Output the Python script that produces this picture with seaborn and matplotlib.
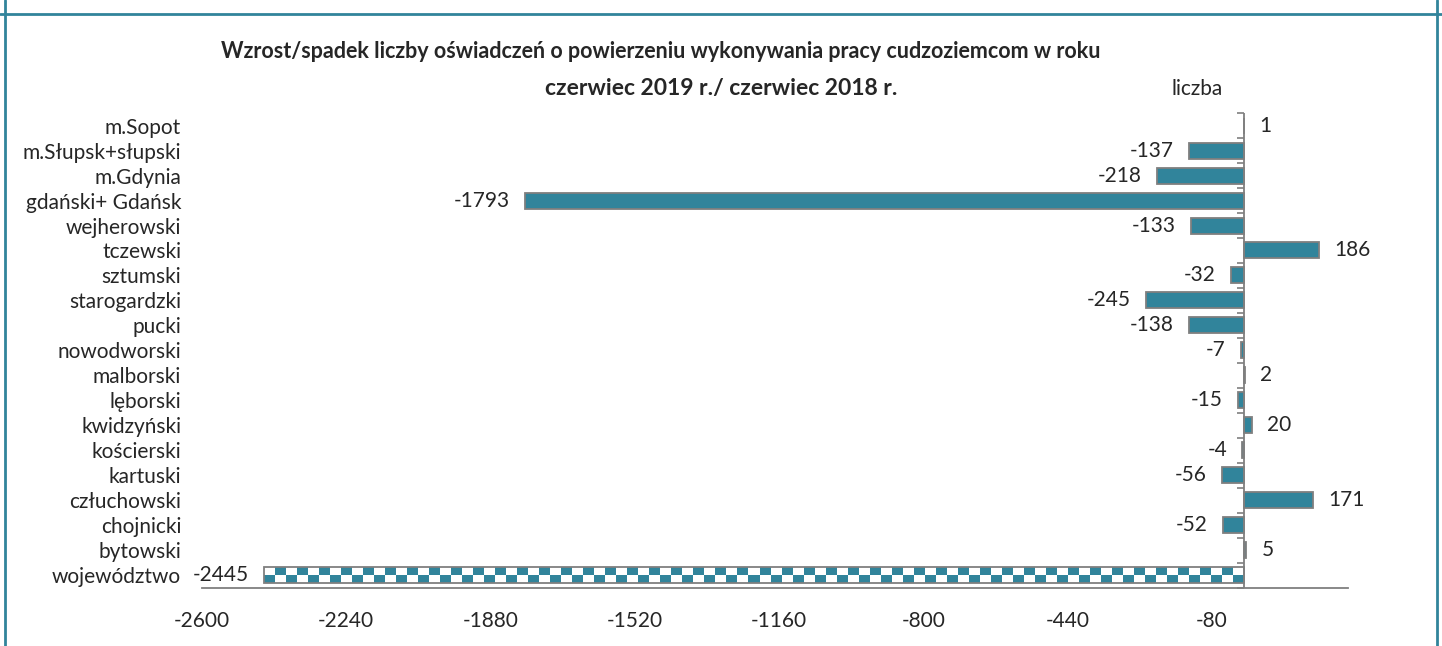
import numpy as np
import pandas as pd
import matplotlib
matplotlib.use('Agg')
import matplotlib.pyplot as plt
import seaborn as sns

# ----------------------------
# data
# ----------------------------
regions = ['m.Sopot', 'm.Słupsk+słupski', 'm.Gdynia', 'gdański+ Gdańsk', 'wejherowski',
           'tczewski', 'sztumski', 'starogardzki', 'pucki', 'nowodworski', 'malborski',
           'lęborski', 'kwidzyński', 'kościerski', 'kartuski', 'człuchowski',
           'chojnicki', 'bytowski', 'województwo']
change = [1, -137, -218, -1793, -133, 186, -32, -245, -138, -7, 2, -15, 20, -4, -56,
          171, -52, 5, -2445]
x_ticks = [-2600, -2240, -1880, -1520, -1160, -800, -440, -80]

title_line1 = 'Wzrost/spadek liczby oświadczeń o powierzeniu wykonywania pracy cudzoziemcom w roku'
title_line2 = 'czerwiec 2019 r./ czerwiec 2018 r.'
unit_label = 'liczba'

df = pd.DataFrame({'region': regions, 'change': change})

TEAL = '#31849B'
GREY = '#7F7F7F'
FS = 15

sns.set_style('white')
plt.rcParams['font.family'] = ['Lato', 'DejaVu Sans']

fig = plt.figure(figsize=(14.42, 6.46), dpi=100)
ax = fig.add_axes([0.140, 0.090, 0.795, 0.735])

sns.barplot(data=df, x='change', y='region', orient='h', color=TEAL,
            saturation=1, width=0.64, edgecolor=GREY, linewidth=1.3, ax=ax)

xmin, xmax = -2600, 260
ax.set_xlim(xmin, xmax)
ax.set_ylim(len(regions) - 0.5, -0.5)
ax.set_xticks(x_ticks)
ax.set_xticklabels([str(t) for t in x_ticks], fontsize=FS)
ax.set_xlabel('')
ax.set_ylabel('')
ax.tick_params(axis='x', direction='out', length=5, color=GREY, width=1.2, pad=12)
ax.tick_params(axis='y', length=0, labelsize=FS, pad=15)

for side in ['top', 'right', 'left']:
    ax.spines[side].set_visible(False)
ax.spines['bottom'].set_color(GREY)
ax.spines['bottom'].set_linewidth(1.3)

# vertical category axis sitting at zero, ticks between categories
sec = ax.secondary_yaxis((0 - xmin) / (xmax - xmin))
sec.set_zorder(3)
sec.set_yticks(np.arange(-0.5, len(regions), 1.0))
sec.set_yticklabels([])
sec.tick_params(axis='y', direction='in', length=5, color=GREY, width=1.2)
sec.spines['left'].set_color(GREY)
sec.spines['left'].set_linewidth(1.3)
for side in ['top', 'right', 'bottom']:
    sec.spines[side].set_visible(False)
ax.axvline(0, color=GREY, linewidth=1.3, zorder=3)

# value labels
bars = ax.containers[0]
ax.bar_label(bars, labels=[str(v) for v in change], padding=11, fontsize=FS)

# checkered fill for the voivodeship total
tot = bars[regions.index('województwo')]
tot.set_facecolor('none')
bx, by = tot.get_x(), tot.get_y()
bw, bh = tot.get_width(), tot.get_height()
px_per_unit = ax.transData.transform((1, 0))[0] - ax.transData.transform((0, 0))[0]
ncol = int(abs(bw) * px_per_unit)
nrow = 17
rr, cc = np.mgrid[0:nrow, 0:ncol]
checker = (((rr + 3) // 11 + cc // 11) % 2).astype(float)
cmap = matplotlib.colors.ListedColormap(['white', TEAL])
im = ax.imshow(checker, cmap=cmap, aspect='auto', interpolation='nearest',
               extent=[bx + bw, bx, by + bh, by], zorder=tot.get_zorder() - 0.1)
im.set_clip_path(tot)
tot.set_zorder(tot.get_zorder() + 0.2)

# titles
fig.text(0.458, 1 - 52 / 646, title_line1, ha='center', va='center',
         fontsize=15.5, fontweight='bold')
fig.text(0.500, 1 - 88 / 646, title_line2, ha='center', va='center',
         fontsize=16.5, fontweight='bold')
fig.text(1197 / 1442, 1 - 89 / 646, unit_label, ha='center', va='center', fontsize=FS)

# frame lines of the report panel
frame = dict(color=TEAL, linewidth=2, transform=fig.transFigure)
fig.add_artist(plt.Line2D([5 / 1442, 5 / 1442], [0, 1], **frame))
fig.add_artist(plt.Line2D([1437 / 1442, 1437 / 1442], [0, 1], **frame))
fig.add_artist(plt.Line2D([0, 1], [1 - 14 / 646, 1 - 14 / 646], **frame))

fig.savefig('out.png', dpi=100)
